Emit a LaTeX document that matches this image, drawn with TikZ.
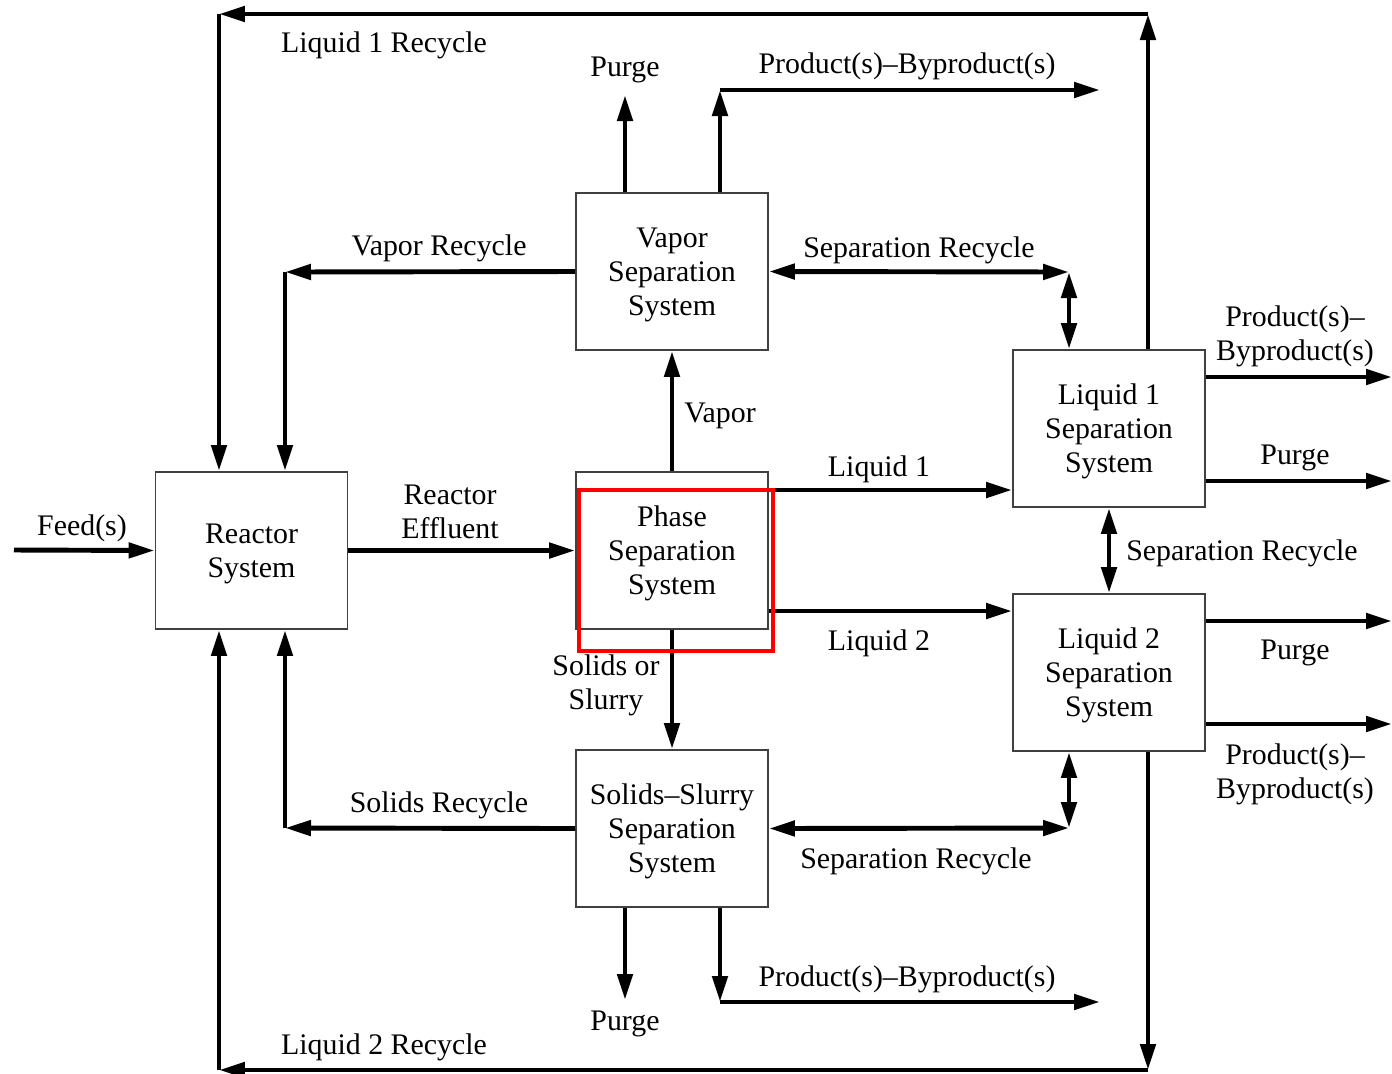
\documentclass[tikz,border=0pt]{standalone}
\usepackage{fontspec}
\setmainfont{Liberation Serif}
\usetikzlibrary{arrows.meta}
\begin{document}
\begin{tikzpicture}[x=0.02cm,y=-0.02cm,
  every node/.style={font=\fontsize{17pt}{19.4pt}\selectfont, align=center, inner sep=0pt},
  box/.style={draw=black!75, line width=1.1pt, minimum width=3.84cm, minimum height=3.14cm},
  flow/.style={line width=2.8pt, -{Triangle[length=0.52cm,width=0.3cm]}},
  both/.style={line width=2.8pt, {Triangle[length=0.52cm,width=0.3cm]}-{Triangle[length=0.52cm,width=0.3cm]}},
  lbl/.style={yshift=-0.06cm}]
\useasboundingbox (0,0) rectangle (1392,1073);
% boxes
\node[box] (reactor) at (251.5,550.5) {\rule{0pt}{15pt}Reactor\\System};
\node[box] (vap) at (672,271.5) {\rule{0pt}{15pt}Vapor\\Separation\\System};
\node[box] (phase) at (672,550.5) {\rule{0pt}{15pt}Phase\\Separation\\System};
\node[box] (sol) at (672,828.5) {\rule{0pt}{15pt}Solids–Slurry\\Separation\\System};
\node[box] (lone) at (1109,428.5) {\rule{0pt}{15pt}Liquid 1\\Separation\\System};
\node[box] (ltwo) at (1109,672.5) {\rule{0pt}{15pt}Liquid 2\\Separation\\System};
% helper coordinates
\coordinate (feed) at (14,550);
\coordinate (vrc) at (285,272);
\coordinate (src) at (285,828);
\coordinate (ltr) at (1148,14);
\coordinate (ltl) at (219,14);
\coordinate (lbr) at (1148,1070);
\coordinate (lbl) at (219,1070);
\coordinate (vpurge) at (625,95);
\coordinate (vprodc) at (720,90);
\coordinate (vprode) at (1100,90);
\coordinate (spurge) at (625,1000);
\coordinate (sprodc) at (720,1002);
\coordinate (sprode) at (1100,1002);
\coordinate (srt) at (1069,272);
\coordinate (srb) at (1069,828);
\coordinate (yli) at (0,490);
\coordinate (ylii) at (0,611);
\coordinate (oa) at (1392,377);
\coordinate (ob) at (1392,481);
\coordinate (oc) at (1392,621);
\coordinate (od) at (1392,724);
% main flows
\draw[flow] (feed) -- (reactor.west);
\draw[flow] (reactor.east) -- (phase.west);
\draw[flow] (phase.north) -- (vap.south);
\draw[flow] (phase.south) -- (sol.north);
\draw[flow] (phase.east |- yli) -- (lone.west |- yli);
\draw[flow] (phase.east |- ylii) -- (ltwo.west |- ylii);
% vapor recycle
\draw[flow] (vap.west) -- (vrc);
\draw[flow] (vrc) -- (reactor.north -| vrc);
% solids recycle
\draw[flow] (sol.west) -- (src);
\draw[flow] (src) -- (reactor.south -| src);
% liquid 1 recycle
\draw[flow] (lone.north -| ltr) -- (ltr);
\draw[flow] (ltr) -- (ltl);
\draw[flow] (ltl) -- (reactor.north -| ltl);
% liquid 2 recycle
\draw[flow] (ltwo.south -| lbr) -- (lbr);
\draw[flow] (lbr) -- (lbl);
\draw[flow] (lbl) -- (reactor.south -| lbl);
% vapor purge/products
\draw[flow] (vap.north -| vpurge) -- (vpurge);
\draw[flow] (vap.north -| vprodc) -- (vprodc);
\draw[flow] (vprodc) -- (vprode);
% solids purge/products
\draw[flow] (sol.south -| spurge) -- (spurge);
\draw[flow] (sol.south -| sprodc) -- (sprodc);
\draw[flow] (sprodc) -- (sprode);
% separation recycles
\draw[both] (vap.east) -- (srt);
\draw[both] (srt) -- (lone.north -| srt);
\draw[both] (lone.south) -- (ltwo.north);
\draw[both] (sol.east) -- (srb);
\draw[both] (srb) -- (ltwo.south -| srb);
% outputs
\draw[flow] (lone.east |- oa) -- (oa);
\draw[flow] (lone.east |- ob) -- (ob);
\draw[flow] (ltwo.east |- oc) -- (oc);
\draw[flow] (ltwo.east |- od) -- (od);
% labels
\node[lbl] (t1) at (384,42) {Liquid 1 Recycle};
\node[lbl] (t2) at (625,67) {Purge};
\node[lbl] (t3) at (907,63) {Product(s)–Byproduct(s)};
\node[lbl] (t4) at (439,245) {Vapor Recycle};
\node[lbl] (t5) at (919,247) {Separation Recycle};
\node[lbl] (t6) at (1295,333) {Product(s)–\\Byproduct(s)};
\node[lbl] (t7) at (720,413) {Vapor};
\node[lbl] (t8) at (879,466) {Liquid 1};
\node[lbl] (t9) at (1295,455) {Purge};
\node[lbl] (t10) at (82,525) {Feed(s)};
\node[lbl] (t11) at (450,509) {Reactor\\Effluent};
\node[lbl] (t12) at (1242,550) {Separation Recycle};
\node[lbl] (t13) at (879,640) {Liquid 2};
\node[lbl] (t14) at (1295,650) {Purge};
\node[lbl] (t15) at (606,682) {Solids or\\Slurry};
\node[lbl] (t16) at (1295,771) {Product(s)–\\Byproduct(s)};
\node[lbl] (t17) at (439,802) {Solids Recycle};
\node[lbl] (t18) at (916,858) {Separation Recycle};
\node[lbl] (t19) at (907,976) {Product(s)–Byproduct(s)};
\node[lbl] (t20) at (625,1021) {Purge};
\node[lbl] (t21) at (384,1044) {Liquid 2 Recycle};
% highlight
\draw[red, line width=2.8pt] (579,490) rectangle (773,651);
\end{tikzpicture}
\end{document}
